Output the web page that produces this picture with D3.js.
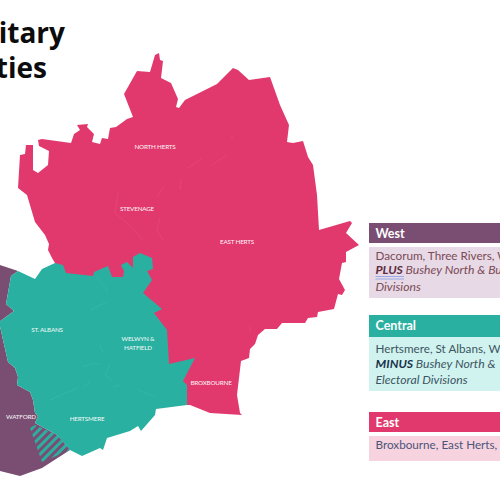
<!DOCTYPE html>
<html>
<head>
<meta charset="utf-8">
<script src="https://cdn.jsdelivr.net/npm/d3@7"></script>
<style>
	html, body { margin: 0; padding: 0; background: #fff; overflow: hidden; }
	svg { display: block; }
</style>
</head>
<body>
<script>
// boundaries, in map units
const EAST_OUTLINE = [[18,188],[20,155],[25,154],[26,145],[33,145],[33,170],[38,173],[48,165],[49,151],[39,146],[38,140],[42,139],[71,143],[74,134],[80,130],[77,125],[88,124],[87,127],[94,134],[92,142],[100,144],[102,138],[108,139],[110,128],[116,127],[127,119],[133,117],[124,94],[137,71],[150,72],[155,55],[159,53],[160,60],[163,61],[161,78],[171,83],[178,99],[176,107],[179,108],[185,100],[217,84],[233,68],[238,70],[249,80],[270,77],[280,105],[289,125],[287,142],[293,143],[303,141],[308,157],[313,165],[317,195],[319,230],[350,221],[352,223],[346,233],[359,245],[346,252],[346,262],[342,263],[339,279],[345,290],[342,295],[338,294],[334,309],[318,312],[317,317],[308,318],[305,323],[282,323],[277,329],[265,329],[258,335],[255,344],[250,349],[249,358],[241,361],[237,395],[240,413],[242,415],[210,413],[190,405],[150,405],[100,330],[55,263],[52,258],[48,250],[49,244],[45,235],[35,222],[27,195]];
const CENTRAL_OUTLINE = [[18,271],[35,279],[42,269],[55,263],[63,265],[66,273],[93,276],[94,272],[108,266],[112,277],[123,277],[124,271],[121,265],[127,262],[133,268],[133,257],[140,253],[152,258],[153,269],[147,271],[152,280],[143,293],[162,309],[154,313],[167,330],[169,364],[195,358],[183,381],[187,385],[187,405],[156,409],[155,415],[141,431],[138,426],[130,431],[107,438],[103,450],[100,448],[82,456],[70,450],[57,435],[35,423],[38,416],[35,413],[33,400],[30,392],[17,385],[18,377],[15,368],[8,362],[-1,322],[14,311],[6,304],[11,276]];
const WEST_OUTLINE = [[-10,263],[0,265],[18,271],[11,276],[6,304],[14,311],[-1,322],[8,362],[15,368],[18,377],[17,385],[30,392],[33,400],[35,413],[38,416],[35,423],[57,435],[70,450],[42,468],[20,476],[0,471],[-10,468]];
const BUSHEY_AREA = [[35,425],[30,428],[42,462],[70,450],[57,435]];

// faint district borders
const EAST_BORDERS = [[[232,135],[232,139]],[[227,155],[212,165]],[[202,158],[188,168]],[[181,180],[180,190]],[[163,188],[157,197]],[[118,193],[115,213],[127,223],[143,240]],[[160,217],[157,230],[163,240]],[[250,326],[250,332]]];
const CENTRAL_BORDERS = [[[97,277],[108,292]],[[107,302],[90,310]],[[100,345],[103,353]],[[83,367],[93,363],[100,365]],[[110,365],[105,375],[113,382]],[[90,382],[83,387]],[[120,385],[113,387]],[[138,390],[155,397]],[[77,388],[50,400]]];

const DISTRICT_NAMES = ["NORTH HERTS", "STEVENAGE", "EAST HERTS", "ST. ALBANS", "WELWYN &", "HATFIELD", "BROXBOURNE", "WATFORD", "HERTSMERE"];
const DISTRICT_X = [155, 137, 237, 47, 138, 138, 211, 21, 87];
const DISTRICT_Y = [149, 211, 244, 332, 341, 350, 385, 419, 421];

const TITLE_LINES = ["itary", "ties"];
const LEGEND_HEADS = ["West", "Central", "East"];
const WEST_LINES = ["Dacorum, Three Rivers, W", "Bushey North & Bu", "Divisions"];
const CENTRAL_LINES = ["Hertsmere, St Albans, W", "Bushey North &", "Electoral Divisions"];
const EAST_LINES = ["Broxbourne, East Herts,"];

const PURPLE = "#7a4e72", TEAL = "#2ab0a1", PINK = "#e1396e";
const w = 500, h = 500;

const svg = d3.select("body").append("svg").attr("width", w).attr("height", h);
const x = d3.scaleLinear().domain([0, 500]).range([0, w]);
const y = d3.scaleLinear().domain([0, 500]).range([0, h]);
const line = d3.line().x(d => x(d[0])).y(d => y(d[1]));
const closed = d3.line().x(d => x(d[0])).y(d => y(d[1])).curve(d3.curveLinearClosed);

const hatch = svg.append("defs").append("pattern")
	.attr("id", "hatch").attr("patternUnits", "userSpaceOnUse")
	.attr("width", 6).attr("height", 6)
	.attr("patternTransform", "rotate(-45)");
hatch.append("rect").attr("width", 6).attr("height", 6).attr("fill", PURPLE);
hatch.append("rect").attr("width", 6).attr("height", 3).attr("fill", TEAL);

// title, cut off by the page edge in the original
svg.selectAll(".title").data(TITLE_LINES).enter().append("text")
	.attr("class", "title")
	.attr("x", (d, i) => i ? 47 : 65).attr("y", (d, i) => 43 + i * 35)
	.attr("text-anchor", "end")
	.style("font", "bold 28px 'Open Sans'").style("fill", "#0c0c0c")
	.text(d => d);

// map
const regions = [[EAST_OUTLINE, PINK], [WEST_OUTLINE, PURPLE], [CENTRAL_OUTLINE, TEAL]];
svg.selectAll(".region").data(regions).enter().append("path")
	.attr("class", "region").attr("d", d => closed(d[0])).attr("fill", d => d[1]);
svg.append("path").attr("d", closed(BUSHEY_AREA)).attr("fill", "url(#hatch)");

svg.selectAll(".border").data(EAST_BORDERS.concat(CENTRAL_BORDERS)).enter().append("path")
	.attr("class", "border").attr("d", line).attr("fill", "none")
	.attr("stroke", "#fff").attr("stroke-opacity", 0.08).attr("stroke-width", 0.8);

svg.selectAll(".district").data(DISTRICT_NAMES).enter().append("text")
	.attr("class", "district")
	.attr("x", (d, i) => x(DISTRICT_X[i])).attr("y", (d, i) => y(DISTRICT_Y[i]))
	.attr("text-anchor", "middle")
	.style("font", "500 6.3px Lato").style("letter-spacing", "-0.2px").style("fill", "#fff").style("fill-opacity", 0.92)
	.text(d => d);

// key panels on the right
const panels = [
	{ head: LEGEND_HEADS[0], lines: WEST_LINES, fill: PURPLE, body: "#e7d9e5", ink: "#7b4a57", top: 223, headH: 20, bodyTop: 247, bodyH: 51, headBase: 238, base: [260, 274, 291], keyword: "PLUS", keyInk: "#5d2b3e" },
	{ head: LEGEND_HEADS[1], lines: CENTRAL_LINES, fill: TEAL, body: "#d1f3f0", ink: "#3c5561", top: 315, headH: 22, bodyTop: 337, bodyH: 54, headBase: 330, base: [353, 368, 384], keyword: "MINUS", keyInk: "#17324a" },
	{ head: LEGEND_HEADS[2], lines: EAST_LINES, fill: PINK, body: "#f7d3e0", ink: "#4b5578", top: 412, headH: 20, bodyTop: 436, bodyH: 25, headBase: 427, base: [449] }
];
const panel = svg.selectAll(".panel").data(panels).enter().append("g").attr("class", "panel");
panel.append("rect").attr("x", 369).attr("y", d => d.top).attr("width", 131).attr("height", d => d.headH).attr("fill", d => d.fill);
panel.append("rect").attr("x", 369).attr("y", d => d.bodyTop).attr("width", 131).attr("height", d => d.bodyH).attr("fill", d => d.body);
panel.append("text").attr("x", 375.5).attr("y", d => d.headBase)
	.style("font", "bold 12.5px Lato").style("fill", "#fff").text(d => d.head);

panel.each(function(d) {
	const g = d3.select(this);
	d.lines.forEach((t, i) => {
		const italic = d.lines.length > 1 && i > 0;
		const label = g.append("text").attr("x", 375.5).attr("y", d.base[i])
			.style("font", (italic ? "italic 12.2px" : "11.7px") + " Lato").style("fill", d.ink);
		if (d.keyword && i === 1) {
			label.append("tspan").style("font-weight", "bold").style("fill", d.keyInk).text(d.keyword + " ");
		}
		label.append("tspan").text(t);
	});
});

// spell check squiggle under PLUS
svg.selectAll(".squiggle").data([276.5, 279]).enter().append("line")
	.attr("class", "squiggle")
	.attr("x1", 375.5).attr("x2", 404).attr("y1", d => d).attr("y2", d => d)
	.attr("stroke", "#8ea6e6").attr("stroke-width", 0.9);
</script>
</body>
</html>
